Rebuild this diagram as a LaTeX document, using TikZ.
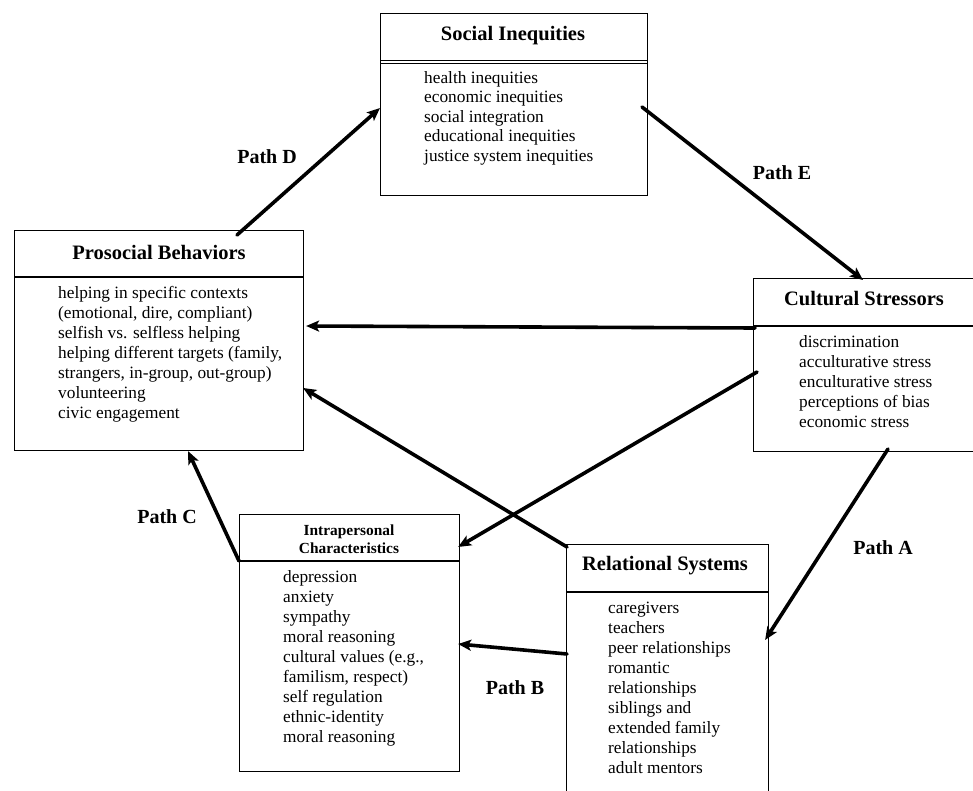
\documentclass[tikz,border=0pt]{standalone}
\usepackage{fontspec}
\setmainfont{Liberation Serif}
\usetikzlibrary{arrows.meta,calc}
\begin{document}
\begin{tikzpicture}[x=1pt,y=-1pt,
  box/.style={draw, line width=1.1pt, inner sep=0pt, anchor=north west},
  ttl/.style={font=\fontsize{20.5}{24}\selectfont\bfseries, inner sep=0pt},
  smallttl/.style={font=\fontsize{15.4}{18}\selectfont\bfseries, inner sep=0pt, align=center},
  itm/.style={font=\fontsize{17.3}{20}\selectfont, align=left, inner sep=0pt, anchor=north west},
  sep/.style={line width=1.8pt},
  arr/.style={line width=3.6pt, line cap=round, -{Stealth[length=13pt,width=11pt,inset=3pt]}},
  plab/.style={font=\fontsize{20}{24}\selectfont\bfseries, inner sep=0pt}]
\useasboundingbox[fill=white] (0,0) rectangle (973,791);

% Social Inequities
\node[box, minimum width=267pt, minimum height=182pt] (soc) at (380,13) {};
\node[ttl] (soct) at (513,36) {Social Inequities};
\draw[line width=1pt] ($(soc.north west)+(0,47.5)$) -- ($(soc.north east)+(0,47.5)$);
\draw[line width=1pt] ($(soc.north west)+(0,50.5)$) -- ($(soc.north east)+(0,50.5)$);
\node[itm, font=\fontsize{17.3}{19.5}\selectfont] (soci) at (424,69.4) {\strut health inequities\\economic inequities\\social integration\\educational inequities\\justice system inequities};

% Prosocial Behaviors
\node[box, minimum width=289pt, minimum height=220pt] (pro) at (14,230) {};
\node[ttl] (prot) at (159,252) {Prosocial Behaviors};
\draw[sep] ($(pro.north west)+(0,47)$) -- ($(pro.north east)+(0,47)$);
\node[itm] (proi) at (58,284) {\strut helping in specific contexts\\(emotional, dire, compliant)\\selfish vs. selfless helping\\helping different targets (family,\\strangers, in-group, out-group)\\volunteering\\civic engagement};

% Cultural Stressors
\node[box, minimum width=227pt, minimum height=173pt] (cul) at (753,278) {};
\node[ttl] (cult) at (864,299) {Cultural Stressors};
\draw[sep] ($(cul.north west)+(0,48)$) -- ($(cul.north east)+(0,48)$);
\node[itm] (culi) at (799,333) {\strut discrimination\\acculturative stress\\enculturative stress\\perceptions of bias\\economic stress};

% Intrapersonal Characteristics
\node[box, minimum width=220pt, minimum height=257pt] (int) at (239,514) {};
\node[smallttl] (intt) at (349,539.5) {Intrapersonal\\Characteristics};
\draw[sep] ($(int.north west)+(0,47)$) -- ($(int.north east)+(0,47)$);
\node[itm] (inti) at (283,568) {\strut depression\\anxiety\\sympathy\\moral reasoning\\cultural values (e.g.,\\familism, respect)\\self regulation\\ethnic-identity\\moral reasoning};

% Relational Systems
\node[box, minimum width=202pt, minimum height=260pt] (rel) at (566,544) {};
\node[ttl] (relt) at (665,566) {Relational Systems};
\draw[sep] ($(rel.north west)+(0,48)$) -- ($(rel.north east)+(0,48)$);
\node[itm] (reli) at (608,599) {\strut caregivers\\teachers\\peer relationships\\romantic\\relationships\\siblings and\\extended family\\relationships\\adult mentors};

% Arrows
\draw[arr] ($(pro.north west)+(223,5)$) -- ($(soc.north west)+(0,95)$);
\draw[arr] ($(soc.north west)+(262,94)$) -- ($(cul.north west)+(110,2)$);
\draw[arr] ($(cul.north west)+(2,50)$) -- ($(pro.north east)+(2,96)$);
\draw[arr] ($(cul.north west)+(4,94)$) -- ($(int.north east)+(-2,33)$);
\draw[arr] ($(rel.north west)+(1,3)$) -- ($(pro.north east)+(-1,158)$);
\draw[arr] ($(int.north west)+(0,47)$) -- ($(pro.south west)+(174,0)$);
\draw[arr] ($(cul.north west)+(135,171)$) -- ($(rel.north east)+(-4,96)$);
\draw[arr] ($(rel.north west)+(1,110)$) -- ($(int.north east)+(-2,130)$);

% Path labels
\node[plab] (pd) at (267,157) {Path D};
\node[plab] (pe) at (782,173) {Path E};
\node[plab] (pc) at (167,517) {Path C};
\node[plab] (pa) at (883,548) {Path A};
\node[plab] (pb) at (515,688) {Path B};
\end{tikzpicture}
\end{document}
